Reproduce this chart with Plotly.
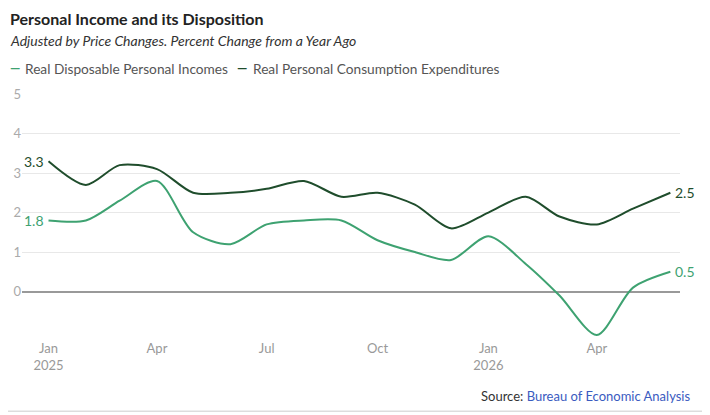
import plotly.graph_objects as go

# monthly, Jan 2025 - Jun 2026
months = ["2025-01-01", "2025-02-01", "2025-03-01", "2025-04-01", "2025-05-01", "2025-06-01",
          "2025-07-01", "2025-08-01", "2025-09-01", "2025-10-01", "2025-11-01", "2025-12-01",
          "2026-01-01", "2026-02-01", "2026-03-01", "2026-04-01", "2026-05-01", "2026-06-01"]
income = [1.8, 1.8, 2.3, 2.8, 1.5, 1.2, 1.7, 1.8, 1.8, 1.3, 1.0, 0.8,
          1.4, 0.7, -0.1, -1.1, 0.1, 0.5]
consumption = [3.3, 2.7, 3.2, 3.1, 2.5, 2.5, 2.6, 2.8, 2.4, 2.5, 2.2, 1.6,
               2.0, 2.4, 1.9, 1.7, 2.1, 2.5]

tick_dates = ["2025-01-01", "2025-04-01", "2025-07-01", "2025-10-01", "2026-01-01", "2026-04-01"]
tick_text = ["Jan<br>2025", "Apr", "Jul", "Oct", "Jan<br>2026", "Apr"]

light = "#3ea271"
dark = "#1f4d2c"

fig = go.Figure()
fig.add_trace(go.Scatter(x=months, y=income, mode="lines", name="Real Disposable Personal Incomes",
                         line=dict(color=light, width=2, shape="spline", smoothing=0.8)))
fig.add_trace(go.Scatter(x=months, y=consumption, mode="lines", name="Real Personal Consumption Expenditures",
                         line=dict(color=dark, width=2, shape="spline", smoothing=0.8)))

# end labels
for series, col in [(income, light), (consumption, dark)]:
    fig.add_annotation(x=months[0], y=series[0], text=f"{series[0]:.1f}", xanchor="right",
                       xshift=-3, showarrow=False, font=dict(color=col, size=14))
    fig.add_annotation(x=months[-1], y=series[-1], text=f"{series[-1]:.1f}", xanchor="left",
                       xshift=3, showarrow=False, font=dict(color=col, size=14))

# title, subtitle, source
fig.add_annotation(xref="paper", yref="paper", x=-0.022, y=1.31, xanchor="left", yanchor="middle",
                   text="<b>Personal Income and its Disposition</b>", showarrow=False,
                   font=dict(size=16, color="#222"))
fig.add_annotation(xref="paper", yref="paper", x=-0.022, y=1.22, xanchor="left", yanchor="middle",
                   text="<i>Adjusted by Price Changes. Percent Change from a Year Ago</i>", showarrow=False,
                   font=dict(size=14, color="#333"))
fig.add_annotation(xref="paper", yref="paper", x=1.018, y=-0.234, xanchor="right", yanchor="middle",
                   text="Source: <span style='color:#3a5bbf'>Bureau of Economic Analysis</span>",
                   showarrow=False, font=dict(size=13, color="#333"))

# legend drawn as text
legend_items = [(-0.0213, 0.0015, light, "Real Disposable Personal Incomes"),
                (0.3237, 0.348, dark, "Real Personal Consumption Expenditures")]
for xd, xt, col, label in legend_items:
    fig.add_annotation(xref="paper", yref="paper", x=xd, y=1.108, xanchor="left", yanchor="middle",
                       text="<b>—</b>", showarrow=False, font=dict(size=13, color=col))
    fig.add_annotation(xref="paper", yref="paper", x=xt, y=1.106, xanchor="left", yanchor="middle",
                       text=label, showarrow=False, font=dict(size=13.7, color="#555"))

# card frame (right and bottom edges)
fig.add_shape(type="rect", xref="paper", yref="paper", x0=-0.2, x1=1.035, y0=-0.295, y1=1.5,
              line=dict(color="#dddddd", width=1.5), layer="below")

# page body adds ~8px offset, so the figure is sized a bit smaller
fig.update_layout(
    width=702, height=407,
    margin=dict(l=14, r=30, t=86, b=75.5),
    paper_bgcolor="white", plot_bgcolor="white",
    font=dict(family="Lato, sans-serif", color="#999"),
    showlegend=False,
    xaxis=dict(range=["2024-12-10", "2026-06-09"], tickvals=tick_dates, ticktext=tick_text,
               showgrid=False, zeroline=False, showline=False, ticks="", automargin=False,
               tickfont=dict(size=13, color="#999")),
    yaxis=dict(range=[-1.2, 5], tickvals=[0, 1, 2, 3, 4, 5], showgrid=True, gridcolor="#e8e8e8",
               gridwidth=1, zeroline=True, zerolinecolor="#999", zerolinewidth=1.5,
               ticks="", automargin=False, tickfont=dict(size=13, color="#aaa")),
)

fig.write_html("out.html")
